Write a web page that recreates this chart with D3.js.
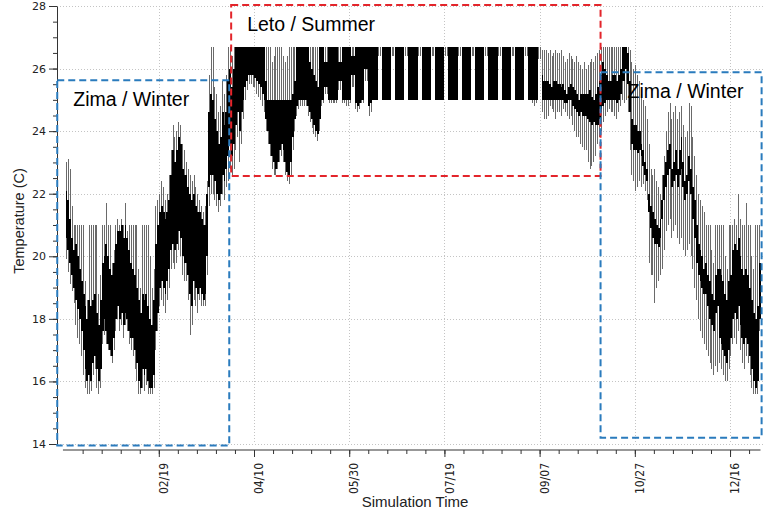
<!DOCTYPE html>
<html><head><meta charset="utf-8">
<script src="https://cdn.jsdelivr.net/npm/d3@7"></script>
<style>body{margin:0;background:#fff}</style>
</head><body>
<svg id="chart" width="776" height="512"></svg>
<script>
// ---------------- DATA ----------------
const startDate = "2014-01-01";
// daily maximum temperature (thin spike top)
const tHigh = [
23.0,23.1,22.8,21.6,21.0,21.0,21.0,
21.0,21.0,21.0,19.2,18.6,21.0,21.0,
21.0,21.0,21.0,18.8,19.4,21.0,21.0,
21.7,21.0,21.0,19.8,20.2,21.0,21.2,
21.0,21.2,21.0,21.7,20.8,21.0,21.0,
21.0,21.0,21.0,19.6,19.0,21.0,21.0,
21.0,21.0,20.0,19.0,19.6,21.6,21.8,
22.0,22.4,22.2,21.8,22.0,22.6,23.4,
24.2,23.8,24.0,24.3,24.2,23.6,23.4,
23.0,22.8,22.6,22.4,22.6,22.2,22.0,
21.8,21.6,21.4,21.6,22.4,25.8,26.7,
26.7,25.4,25.2,24.6,24.8,25.6,25.2,
25.8,26.7,26.7,26.4,26.7,26.7,26.7,
26.7,26.7,26.7,26.7,26.7,26.7,26.7,
26.7,26.7,26.7,26.7,26.7,26.7,26.7,
26.7,26.7,26.7,26.2,26.4,26.7,26.7,
26.7,26.7,26.4,26.2,26.4,26.7,26.7,
26.7,26.7,26.7,26.7,26.7,26.7,26.7,
26.7,26.7,26.7,26.7,26.7,26.7,26.7,
26.7,26.7,26.7,26.7,26.7,26.7,26.7,
26.7,26.7,26.7,26.7,26.7,26.7,26.7,
26.7,26.7,26.7,26.7,26.7,26.7,26.7,
26.7,26.7,26.7,26.7,26.7,26.7,26.7,
26.7,26.7,26.7,26.7,26.7,26.7,26.7,
26.7,26.7,26.7,26.7,26.7,26.7,26.7,
26.7,26.7,26.7,26.7,26.7,26.7,26.7,
26.7,26.7,26.7,26.7,26.7,26.7,26.7,
26.7,26.7,26.7,26.7,26.7,26.7,26.7,
26.7,26.7,26.7,26.7,26.7,26.7,26.7,
26.7,26.7,26.7,26.7,26.7,26.7,26.7,
26.7,26.7,26.7,26.7,26.7,26.7,26.7,
26.7,26.7,26.7,26.7,26.7,26.7,26.7,
26.7,26.7,26.7,26.7,26.7,26.7,26.7,
26.7,26.7,26.7,26.7,26.7,26.7,26.7,
26.7,26.7,26.7,26.7,26.7,26.7,26.7,
26.7,26.7,26.7,26.7,26.7,26.6,26.6,
26.6,26.5,26.6,26.4,26.5,26.6,26.5,
26.5,26.6,26.4,26.2,26.3,26.5,26.4,
26.3,26.2,26.4,26.2,26.1,26.0,26.2,
26.0,26.1,26.2,26.3,26.2,26.4,26.5,
26.6,26.7,26.7,26.7,26.7,26.7,26.7,
26.7,26.7,26.7,26.7,26.7,26.7,26.7,
26.7,26.7,26.6,26.2,26.0,26.1,25.8,
25.6,25.2,25.0,24.8,24.4,23.6,22.8,
22.6,22.8,22.4,22.2,22.0,22.6,23.2,
24.0,24.6,24.9,24.4,24.6,24.8,24.4,
24.6,24.8,24.2,23.8,24.0,24.9,24.8,
23.8,23.2,22.6,22.0,21.8,21.6,21.4,
21.0,21.0,21.0,20.2,19.8,21.0,21.0,
21.0,21.0,21.0,20.0,19.6,21.0,21.0,
21.0,21.2,21.0,22.0,21.2,21.0,21.0,
21.7,21.0,21.0,20.0,19.6,21.0,21.0,
21.0];
// upper edge of the dense (black) band
const coreHigh = [
22.1,21.8,21.2,20.6,20.2,20.4,20.0,
19.6,19.2,18.8,18.4,18.0,18.6,18.4,
18.6,18.8,18.2,17.8,18.6,19.8,20.0,
20.4,20.0,19.6,19.4,19.8,20.4,20.8,
20.8,21.0,20.6,21.0,20.6,20.2,19.8,
19.6,19.4,19.0,18.6,18.2,18.8,18.6,
18.8,18.4,18.0,17.8,18.6,20.4,21.0,
21.4,21.6,21.4,21.2,21.4,21.8,22.6,
23.4,23.0,23.4,23.8,23.6,22.8,22.6,
22.6,22.2,22.0,21.8,22.0,21.6,21.4,
21.4,21.2,21.0,21.0,22.0,24.6,25.2,
25.0,24.4,24.0,23.6,23.8,24.6,24.2,
24.6,25.6,26.0,25.4,26.0,26.7,26.7,
26.7,26.7,26.7,26.7,26.7,26.7,26.7,
26.7,26.7,26.7,26.7,26.7,26.7,26.7,
25.6,25.0,25.0,25.0,25.0,25.0,25.0,
25.0,25.0,25.0,25.0,25.0,25.0,25.0,
25.2,25.6,26.7,26.7,26.7,26.7,26.7,
26.7,26.7,26.2,26.0,25.8,25.6,25.4,
26.7,26.7,26.7,26.2,26.2,26.7,26.7,
26.7,26.7,26.7,26.2,26.2,26.7,26.7,
26.7,26.7,26.7,26.4,26.4,26.7,26.7,
26.7,26.7,26.7,26.7,26.7,26.7,26.7,
26.7,26.7,26.7,26.7,26.7,26.7,26.7,
26.7,26.7,26.7,26.7,26.7,26.7,26.7,
26.7,26.7,26.7,26.7,26.7,26.7,26.7,
26.7,26.7,26.7,26.7,26.7,26.7,26.7,
26.7,26.7,26.7,26.7,26.7,26.7,26.7,
26.7,26.7,26.7,26.7,26.7,26.7,26.7,
26.7,26.7,26.7,26.7,26.7,26.7,26.7,
26.7,26.7,26.7,26.7,26.7,26.7,26.7,
26.7,26.7,26.7,26.7,26.7,26.7,26.7,
26.7,26.7,26.7,26.7,26.7,26.7,26.7,
26.7,26.7,26.7,26.7,26.7,26.7,26.7,
26.7,26.7,26.7,26.7,26.7,26.7,26.7,
26.7,26.7,26.7,26.7,26.7,25.8,25.6,
25.6,25.6,25.5,25.4,25.6,25.6,25.5,
25.5,25.4,25.5,25.3,25.2,25.4,25.5,
25.4,25.3,25.2,25.0,25.2,25.2,25.2,
25.2,25.2,25.3,25.1,25.0,25.2,25.4,
25.6,25.8,26.2,26.0,25.8,25.6,25.6,
25.8,25.8,25.6,25.8,26.0,26.7,26.7,
26.7,26.5,25.6,24.4,24.2,24.2,24.0,
24.0,23.6,23.4,23.0,22.8,22.0,21.6,
21.4,21.2,21.0,20.9,21.2,21.8,22.6,
23.0,23.4,23.6,22.8,23.0,23.4,22.8,
23.4,23.8,23.0,22.4,22.6,23.2,22.8,
22.2,21.8,21.0,20.4,20.2,20.0,19.6,
19.8,19.4,19.2,18.8,18.6,19.4,19.6,
19.6,19.4,19.2,18.8,18.6,19.2,19.4,
20.2,20.4,20.2,20.6,20.0,19.6,19.4,
19.6,19.4,19.0,18.6,18.2,18.0,18.4,
19.8];
// lower edge of the dense (black) band
const coreLow = [
20.6,20.2,19.8,19.4,19.0,18.6,18.3,
18.0,17.6,17.0,16.4,16.0,16.2,16.0,
16.6,16.8,16.4,16.0,16.4,17.6,18.0,
17.6,17.2,17.0,16.8,17.4,18.0,18.4,
18.0,18.2,17.8,18.2,18.0,17.6,17.4,
17.4,17.0,16.6,16.0,15.8,16.4,16.2,
16.4,16.0,15.8,15.8,16.2,17.6,18.2,
19.0,19.2,19.0,18.8,19.2,19.6,20.2,
20.4,20.2,20.4,20.8,20.6,20.0,19.8,
19.8,19.4,18.8,18.4,19.2,19.0,18.8,
19.0,18.8,18.6,18.8,20.0,22.2,22.6,
22.6,22.4,22.0,21.8,22.0,22.6,22.4,
22.8,23.2,23.6,23.2,23.6,24.2,24.6,
24.0,24.6,25.0,25.4,25.6,25.8,25.8,
25.8,25.7,25.6,25.5,25.4,25.2,25.0,
24.4,24.0,23.6,23.2,23.0,22.8,23.0,
23.4,23.6,23.4,23.0,22.7,22.6,23.0,
23.8,24.4,24.8,25.0,25.0,25.0,25.0,
25.0,24.8,24.6,24.4,24.2,24.0,23.9,
24.4,25.0,25.0,25.4,25.4,25.0,25.0,
25.0,25.0,25.0,25.6,25.6,25.0,25.0,
25.0,25.0,25.0,25.8,25.8,24.9,24.8,
24.9,25.0,25.0,26.0,26.0,24.8,24.9,
25.0,25.0,25.0,26.7,26.7,25.0,25.0,
25.0,25.0,25.0,26.7,26.7,25.0,25.0,
25.0,25.0,25.0,26.7,26.7,25.0,25.0,
25.0,25.0,25.0,26.7,26.7,25.0,25.0,
25.0,25.0,25.0,26.7,26.7,25.0,25.0,
25.0,25.0,25.0,26.7,26.7,25.0,25.0,
25.0,25.0,25.0,26.7,26.7,25.0,25.0,
25.0,25.0,25.0,26.7,26.7,25.0,25.0,
25.0,25.0,25.0,26.7,26.7,25.0,25.0,
25.0,25.0,25.0,26.7,26.7,25.0,25.0,
25.0,25.0,25.0,26.7,26.7,25.0,25.0,
25.0,25.0,25.0,26.7,26.7,25.0,25.0,
25.0,25.0,25.0,26.7,26.7,25.0,25.0,
25.0,25.0,25.0,25.0,25.0,25.0,25.0,
25.0,25.0,25.0,24.9,24.9,25.0,25.0,
24.8,24.7,24.6,24.5,24.6,24.5,24.5,
24.5,24.4,24.3,24.2,24.3,24.2,24.2,
24.4,24.6,24.8,24.9,25.0,25.0,25.0,
25.0,25.0,24.9,25.0,25.2,25.6,25.6,
26.0,25.5,24.6,23.6,23.4,23.4,23.3,
23.4,23.2,22.9,22.6,22.4,21.4,20.9,
20.6,20.4,20.4,20.3,20.6,21.2,21.8,
22.2,22.6,22.8,22.2,22.4,22.6,22.2,
22.6,22.8,22.2,21.8,22.0,22.4,22.0,
21.2,20.6,19.8,19.4,19.2,19.0,18.8,
18.8,18.4,18.0,17.8,17.6,18.2,18.4,
17.4,17.2,17.0,16.8,16.6,17.0,17.4,
18.0,18.2,18.0,18.4,17.8,17.4,17.2,
17.4,17.2,16.8,16.4,16.0,15.8,16.0,
18.0];
// daily minimum temperature (thin spike bottom)
const tLow = [
19.9,19.5,19.1,18.9,18.5,17.8,17.4,
17.2,16.8,16.2,15.8,15.6,15.6,15.7,
16.2,16.4,15.8,15.6,15.8,17.2,17.5,
17.2,17.0,16.8,16.6,17.0,17.6,18.0,
17.6,17.8,17.4,17.8,17.6,17.2,17.0,
16.8,16.4,16.0,15.6,15.6,15.8,15.7,
15.9,15.6,15.6,15.6,15.8,17.0,17.6,
18.4,18.6,18.4,18.2,18.6,19.0,19.6,
19.8,19.6,19.8,20.2,20.0,19.4,19.2,
19.2,18.6,17.5,17.8,18.6,18.4,18.2,
18.6,18.4,18.4,18.4,19.4,21.6,22.0,
22.0,21.8,21.6,21.4,21.6,22.0,21.8,
22.2,22.4,22.8,22.6,22.8,23.4,23.8,
23.0,23.6,24.4,25.0,25.3,25.5,25.5,
25.4,25.4,25.2,25.1,25.0,24.8,24.6,
24.0,23.6,23.2,22.8,22.6,22.6,22.8,
23.0,23.2,23.0,22.6,22.4,22.3,22.6,
23.4,24.0,24.5,24.7,24.8,24.8,24.8,
24.8,24.5,24.3,24.1,23.9,23.8,23.7,
24.0,24.8,24.9,25.2,25.2,24.9,24.9,
24.9,24.9,24.9,25.3,25.3,24.9,24.9,
24.8,24.8,24.9,25.4,25.4,24.7,24.6,
24.7,24.9,24.9,25.6,25.6,24.5,24.6,
25.0,25.0,25.0,26.4,26.4,25.0,25.0,
25.0,25.0,25.0,26.4,26.4,25.0,25.0,
25.0,25.0,25.0,26.4,26.4,25.0,25.0,
25.0,25.0,25.0,26.4,26.4,25.0,25.0,
25.0,25.0,25.0,26.4,26.4,25.0,25.0,
25.0,25.0,25.0,26.4,26.4,25.0,25.0,
25.0,25.0,25.0,26.4,26.4,25.0,25.0,
25.0,25.0,25.0,26.4,26.4,25.0,25.0,
25.0,25.0,25.0,26.4,26.4,25.0,25.0,
25.0,25.0,25.0,26.4,26.4,25.0,25.0,
25.0,25.0,25.0,26.4,26.4,25.0,25.0,
25.0,25.0,25.0,26.4,26.4,25.0,25.0,
24.9,24.8,24.9,26.3,26.3,24.6,24.4,
24.4,24.5,24.8,24.7,24.6,24.4,24.6,
24.6,24.5,24.7,24.6,24.5,24.4,24.5,
24.2,24.0,23.8,23.8,23.6,23.5,23.4,
23.4,23.0,22.8,22.9,23.0,23.2,23.6,
23.8,24.0,24.3,24.5,24.6,24.7,24.6,
24.6,24.5,24.4,24.6,24.8,25.0,24.9,
25.0,24.6,23.4,22.6,22.4,22.1,22.2,
22.4,22.2,22.3,22.1,21.8,19.8,19.4,
19.4,18.5,19.0,19.2,19.4,19.6,20.2,
20.8,21.0,21.2,20.6,20.8,21.0,20.6,
20.4,20.6,20.2,20.0,20.2,20.4,20.0,
19.6,19.0,18.6,18.0,17.6,17.4,17.2,
17.0,16.8,16.6,16.4,16.2,16.5,16.3,
16.6,16.4,16.2,16.0,16.0,16.4,16.8,
17.2,17.4,17.2,17.6,17.0,16.6,16.4,
16.8,16.6,16.2,15.8,15.6,15.6,15.6,
17.6];

const yTickValues = [14,16,18,20,22,24,26,28];
const xTickLabels = ["02/19","04/10","05/30","07/19","09/07","10/27","12/16"];
const seasonLabels = ["Zima / Winter","Leto / Summer","Zima / Winter"];
const seasonStart = ["2013-12-27T16:00Z","2014-03-29T00:00Z","2014-10-09T00:00Z"];
const seasonEnd   = ["2014-03-28T00:00Z","2014-10-09T00:00Z","2015-01-01T14:00Z"];
const seasonTop    = [25.63, 28.03, 25.88];
const seasonBottom = [13.95, 22.57, 14.2];
const seasonColor = ["#2a7bbd","#e3252b","#2a7bbd"];
const seasonLabelDx = [16, 16, 27];

// ---------------- CHART ----------------
const svg = d3.select("#chart");
const parse = s => new Date(s + (s.length === 10 ? "T00:00:00Z" : ""));
const t0 = parse(startDate);
const t1 = d3.utcDay.offset(t0, 365);
const x = d3.scaleUtc().domain([t0, t1]).range([65.5, 760.5]);
const y = d3.scaleLinear().domain([14, 28]).range([444, 6]);

const axisY = 57, axisXy = 450;
const font = "'DejaVu Sans', Verdana, sans-serif";
const fontCond = "'DejaVu Sans Condensed', 'DejaVu Sans', sans-serif";
const fontTitle = "'Liberation Sans', Arial, sans-serif";

const majorDates = xTickLabels.map(l => {
  const [m, d] = l.split("/").map(Number);
  return new Date(Date.UTC(2014, m - 1, d));
});
const minorDates = d3.range(-4, 32).map(k => d3.utcDay.offset(majorDates[0], 10 * k))
  .filter(d => d > t0 && d < t1);

// grid
const grid = svg.append("g").attr("stroke", "#c4c4c4").attr("stroke-width", 1)
  .attr("stroke-dasharray", "1,2").attr("shape-rendering", "crispEdges");
grid.selectAll("line.h").data(yTickValues).join("line")
  .attr("x1", axisY).attr("x2", 763)
  .attr("y1", d => Math.round(y(d)) + 0.5).attr("y2", d => Math.round(y(d)) + 0.5);
grid.selectAll("line.v").data(majorDates).join("line")
  .attr("x1", d => Math.round(x(d)) + 0.5).attr("x2", d => Math.round(x(d)) + 0.5)
  .attr("y1", y(28)).attr("y2", y(14));

// data
const days = d3.range(tHigh.length).map(i => ({
  t: d3.utcDay.offset(t0, i), hi: tHigh[i], lo: tLow[i], ch: coreHigh[i], cl: coreLow[i]
}));
const gData = svg.append("g");
gData.selectAll("line").data(days).join("line")
  .attr("shape-rendering", "crispEdges")
  .attr("x1", d => x(d3.utcHour.offset(d.t, 12))).attr("x2", d => x(d3.utcHour.offset(d.t, 12)))
  .attr("y1", d => y(d.hi)).attr("y2", d => y(d.lo))
  .attr("stroke", "#6a6a6a").attr("stroke-width", 1);
gData.selectAll("rect").data(days.filter(d => d.ch > d.cl)).join("rect")
  .attr("shape-rendering", "crispEdges")
  .attr("x", d => x(d.t)).attr("width", d => x(d3.utcDay.offset(d.t, 1)) - x(d.t))
  .attr("y", d => y(d.ch)).attr("height", d => y(d.cl) - y(d.ch))
  .attr("fill", "#000");

// y axis
const gy = svg.append("g").attr("transform", `translate(${axisY},0)`);
gy.call(d3.axisLeft(y).tickValues(d3.range(14, 28.01, 0.5)).tickSize(4).tickFormat(""))
  .call(g => g.select(".domain").remove());
gy.append("g").call(d3.axisLeft(y).tickValues(yTickValues).tickSize(8).tickSizeOuter(0).tickPadding(3).tickFormat(d3.format("d")))
  .call(g => g.selectAll("text").attr("font-family", font).attr("font-size", 11).attr("fill", "#222"));
gy.selectAll("line, path").attr("stroke", "#333");

// x axis
const gx = svg.append("g").attr("transform", `translate(0,${axisXy})`);
gx.call(d3.axisBottom(x).tickValues(minorDates).tickSize(4).tickSizeOuter(0).tickFormat(""));
gx.select(".domain").attr("d", `M${x(d3.utcHour.offset(t0, -32))},0H${x(t1)}`);
gx.append("g").call(d3.axisBottom(x).tickValues(majorDates).tickSize(7).tickFormat((d, i) => xTickLabels[i]))
  .call(g => g.select(".domain").remove())
  .call(g => g.selectAll("text").attr("font-family", fontCond).attr("font-size", 12).attr("fill", "#222")
    .attr("transform", "rotate(-90)").attr("text-anchor", "end")
    .attr("x", -13).attr("y", 0).attr("dy", "0.72em"));
gx.selectAll("line, path").attr("stroke", "#333");

// axis titles
svg.append("text").attr("x", 415).attr("y", 507).attr("text-anchor", "middle")
  .attr("font-family", fontTitle).attr("font-size", 15).attr("fill", "#222")
  .text("Simulation Time");
svg.append("text").attr("transform", "translate(24,221) rotate(-90)").attr("text-anchor", "middle")
  .attr("font-family", fontTitle).attr("font-size", 14.5).attr("fill", "#222")
  .text("Temperature (C)");

// season boxes
const boxes = seasonLabels.map((l, i) => ({
  label: l, x0: x(parse(seasonStart[i])), x1: x(parse(seasonEnd[i])),
  y0: y(seasonTop[i]), y1: y(seasonBottom[i]), c: seasonColor[i], dx: seasonLabelDx[i]
}));
const gb = svg.append("g");
gb.selectAll("rect").data(boxes).join("rect")
  .attr("x", d => d.x0).attr("y", d => d.y0)
  .attr("width", d => d.x1 - d.x0).attr("height", d => d.y1 - d.y0)
  .attr("fill", "none").attr("stroke", d => d.c).attr("stroke-width", 2)
  .attr("stroke-dasharray", "7,4");
gb.selectAll("text").data(boxes).join("text")
  .attr("x", d => d.x0 + d.dx).attr("y", d => d.y0 + 26)
  .attr("font-family", fontTitle).attr("font-size", 19.5).attr("fill", "#000")
  .text(d => d.label);
</script>
</body></html>
